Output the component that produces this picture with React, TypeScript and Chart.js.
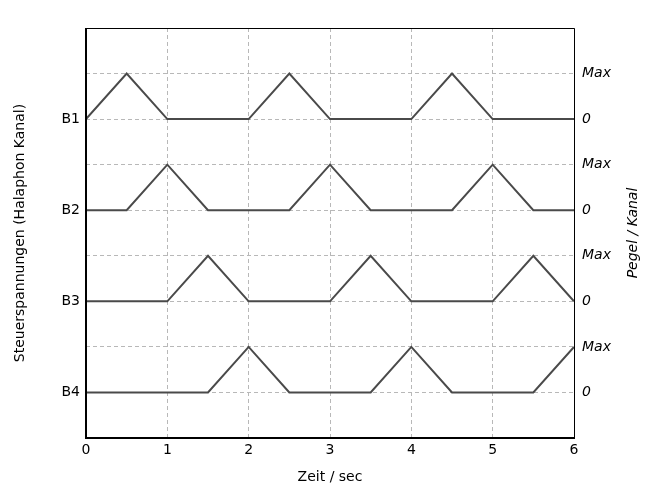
import React, { useEffect, useRef } from "react";
import { Chart, registerables } from "chart.js";

Chart.register(...registerables);

// Channel labels (left axis) and their baseline offsets
const channelLabels = ["B1", "B2", "B3", "B4"];
const channelOffsets = [6, 4, 2, 0];

// Time points (sec) and levels (0 = baseline, 1 = Max) per channel
const b1Times = [0, 0.5, 1, 2, 2.5, 3, 4, 4.5, 5, 6];
const b1Levels = [0, 1, 0, 0, 1, 0, 0, 1, 0, 0];
const b2Times = [0, 0.5, 1, 1.5, 2.5, 3, 3.5, 4.5, 5, 5.5, 6];
const b2Levels = [0, 0, 1, 0, 0, 1, 0, 0, 1, 0, 0];
const b3Times = [0, 1, 1.5, 2, 3, 3.5, 4, 5, 5.5, 6];
const b3Levels = [0, 0, 1, 0, 0, 1, 0, 0, 1, 0];
const b4Times = [0, 1.5, 2, 2.5, 3.5, 4, 4.5, 5.5, 6];
const b4Levels = [0, 0, 1, 0, 0, 1, 0, 0, 1];

const xTicks = [0, 1, 2, 3, 4, 5, 6];
const rightTickLabels = ["0", "Max"];

const xTitle = "Zeit / sec";
const yTitle = "Steuerspannungen (Halaphon Kanal)";
const y2Title = "Pegel / Kanal";

const FONT = "'DejaVu Sans', sans-serif";
const FS = 14;

export default function App() {
  const ref = useRef<HTMLCanvasElement>(null);

  useEffect(() => {
    const times = [b1Times, b2Times, b3Times, b4Times];
    const levels = [b1Levels, b2Levels, b3Levels, b4Levels];
    const datasets = channelLabels.map((lab, i) => ({
      label: lab,
      data: times[i].map((t, j) => ({ x: t, y: levels[i][j] + channelOffsets[i] })),
      borderColor: "#4a4a4a",
      borderWidth: 2,
      pointRadius: 0,
      fill: false,
      tension: 0,
    }));

    const framePlugin = {
      id: "frame",
      afterDatasetsDraw(chart: any) {
        const { ctx, chartArea: a } = chart;
        ctx.save();
        ctx.strokeStyle = "#000";
        ctx.lineWidth = 1;
        ctx.beginPath();
        ctx.moveTo(a.left, a.top + 0.5);
        ctx.lineTo(a.right + 0.5, a.top + 0.5);
        ctx.lineTo(a.right + 0.5, a.bottom);
        ctx.stroke();
        ctx.lineWidth = 2;
        ctx.beginPath();
        ctx.moveTo(a.left, a.top);
        ctx.lineTo(a.left, a.bottom);
        ctx.lineTo(a.right + 1, a.bottom);
        ctx.stroke();
        // right title, rotated reading bottom-to-top
        ctx.fillStyle = "#000";
        ctx.font = "italic " + FS + "px " + FONT;
        ctx.textAlign = "center";
        ctx.textBaseline = "middle";
        ctx.translate(633, (a.top + a.bottom) / 2);
        ctx.rotate(-Math.PI / 2);
        ctx.fillText(y2Title, 0, 0);
        ctx.restore();
      },
    };

    const chart = new Chart(ref.current!, {
      type: "line",
      data: { datasets },
      plugins: [framePlugin],
      options: {
        animation: false,
        responsive: false,
        layout: { padding: { top: 28, left: 0, right: 0, bottom: 0 } },
        plugins: { legend: { display: false }, tooltip: { enabled: false } },
        scales: {
          x: {
            type: "linear",
            min: 0,
            max: 6,
            afterFit: (s: any) => { s.height = 64; },
            afterBuildTicks: (s: any) => { s.ticks = xTicks.map((v) => ({ value: v })); },
            ticks: { padding: 4, color: "#000", font: { family: FONT, size: FS } },
            grid: { drawTicks: false, color: "#b8b8b8", lineWidth: 1 },
            border: { display: false, dash: [4, 3] },
            title: { display: true, text: xTitle, color: "#000", font: { family: FONT, size: FS }, padding: { top: 0, bottom: 16 } },
          },
          y: {
            type: "linear",
            position: "left",
            min: -1,
            max: 8,
            afterFit: (s: any) => { s.width = 86; },
            afterBuildTicks: (s: any) => { s.ticks = channelOffsets.map((v) => ({ value: v })); },
            ticks: {
              padding: 6,
              color: "#000",
              font: { family: FONT, size: FS },
              callback: (v: any) => channelLabels[channelOffsets.indexOf(Number(v))] ?? "",
            },
            grid: { display: false, drawTicks: false },
            border: { display: false },
            title: { display: true, text: yTitle, color: "#000", font: { family: FONT, size: FS }, padding: { top: 11.5, bottom: 0 } },
          },
          y2: {
            type: "linear",
            position: "right",
            min: -1,
            max: 8,
            afterFit: (s: any) => { s.width = 85; },
            afterBuildTicks: (s: any) => {
              const t = [];
              for (let v = 0; v <= 7; v++) t.push({ value: v });
              s.ticks = t;
            },
            ticks: {
              padding: 8,
              color: "#000",
              font: { family: FONT, size: FS, style: "italic" },
              callback: (v: any) => rightTickLabels[Number(v) % 2],
            },
            grid: { drawTicks: false, color: "#b8b8b8", lineWidth: 1 },
            border: { display: false, dash: [4, 3] },
          },
        },
      } as any,
    });
    return () => chart.destroy();
  }, []);

  return (
    <div style={{ position: "fixed", left: 0, top: 0, width: 659, height: 502, background: "#fff" }}>
      <canvas ref={ref} width={659} height={502} style={{ display: "block" }} />
    </div>
  );
}
